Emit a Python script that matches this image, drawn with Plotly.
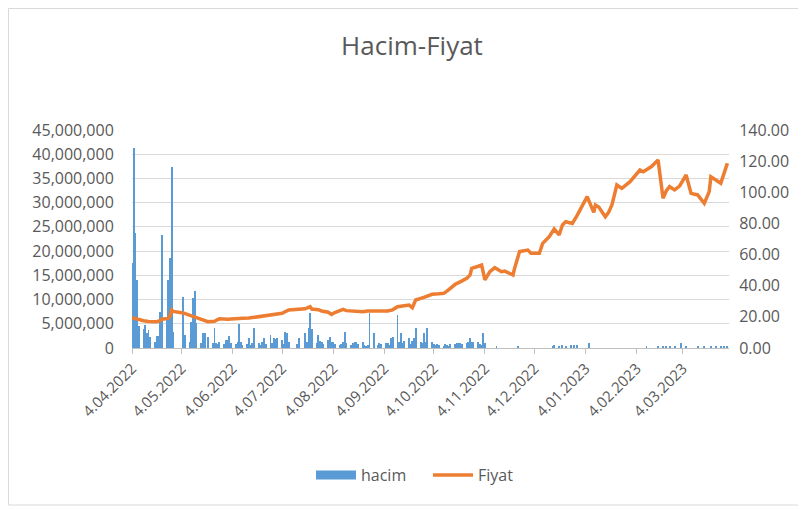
import plotly.graph_objects as go

# Fiyat (price)
price_dates = [
    "2022-04-04", "2022-04-06", "2022-04-08", "2022-04-11", "2022-04-14", "2022-04-19",
    "2022-04-21", "2022-04-22", "2022-04-26", "2022-04-27", "2022-04-28", "2022-04-29",
    "2022-05-05", "2022-05-10", "2022-05-13", "2022-05-18", "2022-05-20", "2022-05-24",
    "2022-05-27", "2022-06-01", "2022-06-06", "2022-06-10", "2022-06-14", "2022-06-20",
    "2022-06-24", "2022-06-29", "2022-07-04", "2022-07-08", "2022-07-14", "2022-07-18",
    "2022-07-21", "2022-07-22", "2022-07-26", "2022-07-28", "2022-08-01", "2022-08-03",
    "2022-08-05", "2022-08-10", "2022-08-12", "2022-08-17", "2022-08-22", "2022-08-25",
    "2022-08-31", "2022-09-06", "2022-09-09", "2022-09-12", "2022-09-15", "2022-09-19",
    "2022-09-21", "2022-09-23", "2022-09-28", "2022-10-03", "2022-10-07", "2022-10-10",
    "2022-10-12", "2022-10-14", "2022-10-17", "2022-10-20", "2022-10-24", "2022-10-26",
    "2022-10-27", "2022-10-31", "2022-11-02", "2022-11-04", "2022-11-07", "2022-11-10",
    "2022-11-14", "2022-11-16", "2022-11-21", "2022-11-22", "2022-11-25", "2022-11-30",
    "2022-12-02", "2022-12-07", "2022-12-09", "2022-12-13", "2022-12-16", "2022-12-19",
    "2022-12-21", "2022-12-23", "2022-12-27", "2022-12-30", "2023-01-03", "2023-01-05",
    "2023-01-09", "2023-01-10", "2023-01-12", "2023-01-16", "2023-01-18", "2023-01-20",
    "2023-01-23", "2023-01-26", "2023-01-31", "2023-02-06", "2023-02-08", "2023-02-13",
    "2023-02-17", "2023-02-20", "2023-02-22", "2023-02-24", "2023-02-27", "2023-03-02",
    "2023-03-06", "2023-03-09", "2023-03-13", "2023-03-17", "2023-03-20", "2023-03-21",
    "2023-03-27", "2023-03-29", "2023-03-31",
]
price_values = [
    19.5, 18.8, 18.0, 17.5, 17.0, 16.9,
    17.5, 18.5, 19.0, 20.5, 24.4, 23.5,
    22.5, 20.8, 19.5, 17.5, 16.9, 17.2,
    18.8, 18.5, 19.0, 19.1, 19.2, 20.1,
    20.6, 21.2, 22.3, 24.4, 24.8, 25.2,
    26.5, 25.0, 24.6, 23.8, 23.0, 21.6,
    22.8, 24.8, 24.0, 23.6, 23.3, 23.8,
    23.6, 23.8, 24.5, 26.5, 27.0, 27.6,
    25.9, 30.8, 32.5, 34.5, 34.8, 35.1,
    36.5, 38.3, 40.9, 42.5, 44.7, 46.9,
    51.2, 52.5, 53.3, 43.7, 49.0, 51.6,
    49.0, 49.4, 46.9, 51.2, 61.9, 62.9,
    60.8, 60.8, 67.2, 71.5, 76.4, 72.6,
    79.0, 81.1, 80.0, 85.4, 94.0, 97.2,
    87.1, 91.8, 90.5, 84.3, 87.1, 91.8,
    104.7, 102.5, 106.8, 114.3, 113.2, 116.5,
    120.7, 96.1, 101.0, 103.6, 101.5, 104.0,
    111.1, 99.3, 98.3, 92.9, 100.4, 110.0,
    105.8, 113.2, 118.6,
]

# hacim (volume)
volume_dates = [
    "2022-04-04", "2022-04-05", "2022-04-06", "2022-04-07", "2022-04-08", "2022-04-11",
    "2022-04-12", "2022-04-13", "2022-04-14", "2022-04-15", "2022-04-18", "2022-04-19",
    "2022-04-20", "2022-04-21", "2022-04-22", "2022-04-25", "2022-04-26", "2022-04-27",
    "2022-04-28", "2022-04-29", "2022-05-05", "2022-05-06", "2022-05-09", "2022-05-10",
    "2022-05-11", "2022-05-12", "2022-05-13", "2022-05-16", "2022-05-17", "2022-05-18",
    "2022-05-20", "2022-05-23", "2022-05-24", "2022-05-25", "2022-05-26", "2022-05-27",
    "2022-05-30", "2022-05-31", "2022-06-01", "2022-06-02", "2022-06-03", "2022-06-06",
    "2022-06-07", "2022-06-08", "2022-06-09", "2022-06-10", "2022-06-13", "2022-06-14",
    "2022-06-15", "2022-06-16", "2022-06-17", "2022-06-20", "2022-06-21", "2022-06-22",
    "2022-06-23", "2022-06-24", "2022-06-27", "2022-06-28", "2022-06-29", "2022-06-30",
    "2022-07-01", "2022-07-04", "2022-07-05", "2022-07-06", "2022-07-07", "2022-07-08",
    "2022-07-13", "2022-07-14", "2022-07-18", "2022-07-19", "2022-07-20", "2022-07-21",
    "2022-07-22", "2022-07-25", "2022-07-26", "2022-07-27", "2022-07-28", "2022-07-29",
    "2022-08-01", "2022-08-02", "2022-08-03", "2022-08-04", "2022-08-05", "2022-08-08",
    "2022-08-09", "2022-08-10", "2022-08-11", "2022-08-12", "2022-08-15", "2022-08-16",
    "2022-08-17", "2022-08-18", "2022-08-19", "2022-08-22", "2022-08-23", "2022-08-24",
    "2022-08-25", "2022-08-26", "2022-08-29", "2022-08-31", "2022-09-01", "2022-09-02",
    "2022-09-05", "2022-09-06", "2022-09-07", "2022-09-08", "2022-09-09", "2022-09-12",
    "2022-09-13", "2022-09-14", "2022-09-15", "2022-09-16", "2022-09-19", "2022-09-20",
    "2022-09-21", "2022-09-22", "2022-09-23", "2022-09-26", "2022-09-27", "2022-09-28",
    "2022-09-29", "2022-09-30", "2022-10-03", "2022-10-04", "2022-10-05", "2022-10-06",
    "2022-10-07", "2022-10-10", "2022-10-11", "2022-10-12", "2022-10-13", "2022-10-14",
    "2022-10-17", "2022-10-18", "2022-10-19", "2022-10-20", "2022-10-21", "2022-10-24",
    "2022-10-25", "2022-10-26", "2022-10-27", "2022-10-28", "2022-10-31", "2022-11-01",
    "2022-11-02", "2022-11-03", "2022-11-04", "2022-11-11", "2022-11-24", "2022-12-15",
    "2022-12-16", "2022-12-19", "2022-12-21", "2022-12-23", "2022-12-26", "2022-12-28",
    "2022-12-30", "2023-01-06", "2023-02-10", "2023-02-17", "2023-02-20", "2023-02-22",
    "2023-02-24", "2023-02-27", "2023-03-03", "2023-03-06", "2023-03-13", "2023-03-17",
    "2023-03-21", "2023-03-24", "2023-03-27", "2023-03-29", "2023-03-31",
]
volume_values = [
    17500000, 41300000, 23700000, 14000000, 4500000, 4000000,
    4700000, 3000000, 3700000, 2300000, 1200000, 2500000,
    2400000, 7400000, 23300000, 6100000, 14000000, 18600000,
    37400000, 3400000, 10600000, 2700000, 1300000, 5400000,
    10300000, 11800000, 5100000, 1000000, 3000000, 3000000,
    2300000, 1000000, 4100000, 1000000, 800000, 1300000,
    800000, 1600000, 1600000, 2500000, 1000000, 800000,
    1200000, 4900000, 1300000, 700000, 800000, 2000000,
    700000, 1000000, 4100000, 1000000, 700000, 1200000,
    2000000, 900000, 2700000, 1100000, 2000000, 1800000,
    2000000, 1600000, 900000, 3400000, 3000000, 1300000,
    900000, 2000000, 3000000, 1200000, 4100000, 7200000,
    4000000, 1000000, 2700000, 1500000, 1300000, 800000,
    1600000, 2300000, 1200000, 1300000, 800000, 700000,
    900000, 1200000, 3400000, 1000000, 700000, 1000000,
    1300000, 1300000, 900000, 1300000, 600000, 500000,
    700000, 7200000, 3000000, 700000, 1000000, 900000,
    1000000, 1000000, 700000, 2000000, 2300000, 6800000,
    1200000, 3000000, 1000000, 1400000, 2000000, 900000,
    1400000, 2000000, 4100000, 1300000, 1000000, 3000000,
    1300000, 4100000, 1300000, 800000, 600000, 800000,
    700000, 500000, 800000, 600000, 500000, 800000,
    800000, 1100000, 1000000, 1100000, 900000, 1100000,
    1200000, 2000000, 1300000, 1300000, 1200000, 800000,
    600000, 3000000, 1000000, 500000, 300000, 500000,
    600000, 500000, 600000, 500000, 600000, 700000,
    600000, 1000000, 300000, 500000, 400000, 500000,
    500000, 400000, 1000000, 400000, 300000, 500000,
    500000, 400000, 500000, 500000, 400000,
]

tick_dates = [
    "2022-04-04", "2022-05-04", "2022-06-04", "2022-07-04", "2022-08-04", "2022-09-04",
    "2022-10-04", "2022-11-04", "2022-12-04", "2023-01-04", "2023-02-04", "2023-03-04",
]
tick_labels = [
    "4.04.2022", "4.05.2022", "4.06.2022", "4.07.2022", "4.08.2022", "4.09.2022",
    "4.10.2022", "4.11.2022", "4.12.2022", "4.01.2023", "4.02.2023", "4.03.2023",
]

font_name = "Open Sans"
grey_text = "#595959"
blue = "#5B9BD5"
orange = "#ED7D31"

# the page body has an 8px margin, so work in window pixels and shift
OFF = 8
W, H = 806 - OFF, 509 - OFF
L, R, T, B = 132 - OFF, 729 - OFF, 130 - OFF, 348 - OFF


def px(x):
    return (x - OFF - L) / (R - L)


def py(y):
    return (B - (y - OFF)) / (B - T)


fig = go.Figure()
fig.add_trace(go.Bar(
    name="hacim",
    x=volume_dates,
    y=volume_values,
    marker=dict(color=blue, line_width=0),
    width=0.55 * 86400000,
    legendgroup="hacim",
    showlegend=False,
))
# legend entry drawn as a wide block, like the spreadsheet legend
fig.add_trace(go.Scatter(
    name="hacim",
    x=[None],
    y=[None],
    mode="lines",
    line=dict(color=blue, width=9),
    legendgroup="hacim",
))
fig.add_trace(go.Scatter(
    name="Fiyat",
    x=price_dates,
    y=price_values,
    yaxis="y2",
    mode="lines",
    line=dict(color=orange, width=3.5),
))

fig.update_layout(
    width=W,
    height=H,
    autosize=False,
    margin=dict(l=L, r=W - R, t=T, b=H - B, autoexpand=False),
    paper_bgcolor="white",
    plot_bgcolor="white",
    font=dict(family=font_name, color=grey_text, size=15),
    title=dict(
        text="Hacim-Fiyat",
        x=(412 - OFF) / W,
        xanchor="center",
        y=1 - (46 - OFF) / H,
        yanchor="middle",
        font=dict(size=26, color=grey_text),
    ),
    showlegend=True,
    legend=dict(
        orientation="h",
        x=px(428),
        xanchor="center",
        y=py(475),
        yanchor="middle",
        font=dict(size=16, color=grey_text),
        itemwidth=40,
        entrywidth=62,
        entrywidthmode="pixels",
    ),
    bargap=0,
    xaxis=dict(
        type="date",
        range=["2022-04-04", "2023-04-01"],
        tickvals=tick_dates,
        ticktext=tick_labels,
        tickangle=-45,
        ticks="outside",
        ticklen=5,
        tickcolor="#BFBFBF",
        showline=True,
        linecolor="#BFBFBF",
        showgrid=False,
        tickfont=dict(size=15),
    ),
    yaxis=dict(
        range=[0, 45000000],
        dtick=5000000,
        tickformat=",",
        showgrid=True,
        gridcolor="#D9D9D9",
        gridwidth=1,
        zeroline=False,
        ticks="outside",
        ticklen=14,
        tickcolor="rgba(0,0,0,0)",
        tickfont=dict(size=16),
    ),
    yaxis2=dict(
        overlaying="y",
        side="right",
        range=[0, 140],
        dtick=20,
        tickformat=".2f",
        showgrid=False,
        zeroline=False,
        ticks="outside",
        ticklen=6,
        tickcolor="rgba(0,0,0,0)",
        tickfont=dict(size=16),
    ),
    shapes=[
        dict(
            type="rect",
            xref="paper",
            yref="paper",
            x0=px(OFF + 0.5),
            x1=px(800),
            y0=py(OFF + 0.5),
            y1=py(505),
            line=dict(color="#D9D9D9", width=1),
            fillcolor="rgba(0,0,0,0)",
            layer="below",
        )
    ],
)

fig.write_html("out.html")
